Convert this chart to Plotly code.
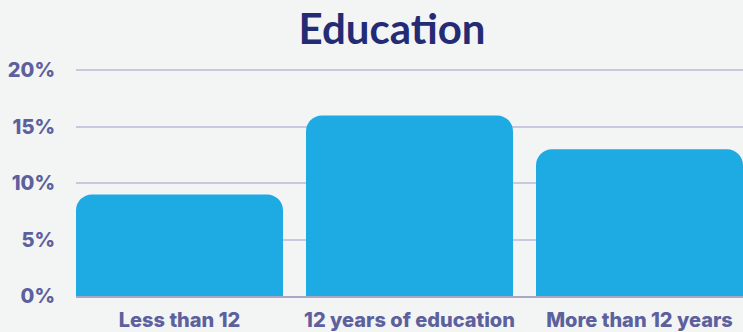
import plotly.graph_objects as go

categories = ["Less than 12", "12 years of education", "More than 12 years"]
values = [9, 16, 13]
tick_vals = [0, 5, 10, 15, 20]
tick_text = ["0%", "5%", "10%", "15%", "20%"]

BG = "#f3f4f4"
BAR = "#1eabe3"
LABEL = "#5c609d"
TITLE = "#232b74"
GRID = "#cac8de"

fig = go.Figure(go.Bar(
    x=categories, y=values,
    marker=dict(color=BAR, line=dict(width=0), cornerradius=16),
    width=0.9,
    hoverinfo="skip",
))

fig.update_layout(
    width=743, height=332,
    margin=dict(l=76, r=0, t=68, b=36),
    paper_bgcolor=BG, plot_bgcolor=BG,
    showlegend=False,
    title=dict(text="<b>Education</b>", x=392/743, xanchor="center",
               y=1 - 29/332, yanchor="middle", yref="container",
               font=dict(family="Lato", size=42, color=TITLE)),
    xaxis=dict(range=[-0.45, 2.45], showgrid=False, showline=True, linecolor="#a9a6c6",
               linewidth=2, layer="below traces",
               ticks="outside", ticklen=5, tickcolor="rgba(0,0,0,0)",
               tickfont=dict(family="Inter", size=20, color=LABEL, weight=800),
               fixedrange=True),
    yaxis=dict(range=[0, 20.2], tickvals=tick_vals, ticktext=tick_text,
               showgrid=True, gridcolor=GRID, gridwidth=2, zeroline=False,
               layer="below traces",
               ticks="outside", ticklen=16, tickcolor="rgba(0,0,0,0)",
               tickfont=dict(family="Inter", size=20, color=LABEL, weight=800),
               fixedrange=True),
)

fig.write_html("out.html")
